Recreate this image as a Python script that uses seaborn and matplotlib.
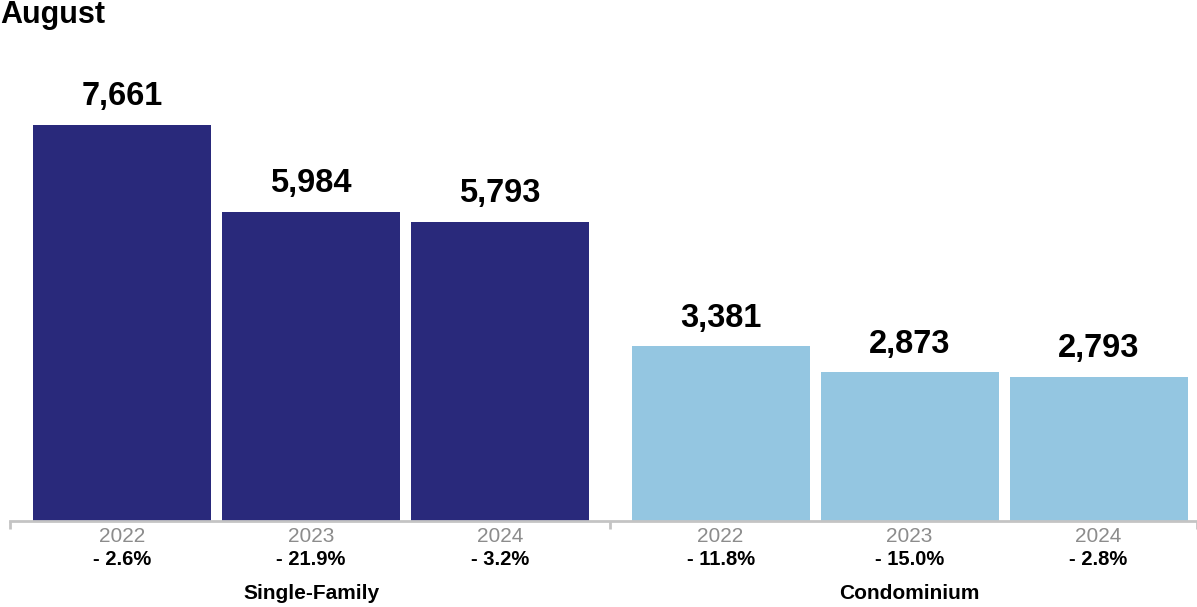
import matplotlib
matplotlib.use("Agg")
import matplotlib.pyplot as plt
import seaborn as sns
import pandas as pd
import numpy as np

# ---- data ----
title = "August"
groups = ["Single-Family", "Condominium"]
years = ["2022", "2023", "2024"]
sf_values = [7661, 5984, 5793]
condo_values = [3381, 2873, 2793]
sf_changes = ["- 2.6%", "- 21.9%", "- 3.2%"]
condo_changes = ["- 11.8%", "- 15.0%", "- 2.8%"]
colors = {"Single-Family": "#29297b", "Condominium": "#94c6e1"}

sns.set_theme(style="white")
plt.rcParams["font.family"] = ["Liberation Sans", "DejaVu Sans"]

group_gap = 1.167
rows = []
for gi, (g, vals, chg) in enumerate(zip(groups, [sf_values, condo_values], [sf_changes, condo_changes])):
    for yi, (yr, v, c) in enumerate(zip(years, vals, chg)):
        rows.append({"group": g, "year": yr, "value": v, "change": c,
                     "pos": gi * (len(years) - 1 + group_gap) + yi})
df = pd.DataFrame(rows)

fig = plt.figure(figsize=(11.97, 6.07), dpi=100)
ax = fig.add_axes([10 / 1197, 86 / 607, 1187 / 1197, 521 / 607])

sns.barplot(data=df, x="pos", y="value", hue="group", palette=colors,
            native_scale=True, dodge=False, width=0.942, legend=False,
            saturation=1, ax=ax, edgecolor="none")

for cont in ax.containers:
    ax.bar_label(cont, labels=[f"{int(v):,}" for v in cont.datavalues],
                 padding=9, fontsize=23.5, fontweight="bold", color="black")

ax.set_xlim(-0.593, 5.688)
ax.set_ylim(0, 10079)
ax.set_yticks([])
ax.set_xlabel("")
ax.set_ylabel("")
for s in ["top", "left", "right"]:
    ax.spines[s].set_visible(False)
ax.spines["bottom"].set_color("#c4c4c4")
ax.spines["bottom"].set_linewidth(2)

ax.set_xticks(df["pos"])
ax.set_xticklabels(df["year"], fontsize=15, color="#8c8c8c")
ax.tick_params(axis="x", which="major", length=0, pad=4.5)
sf_end = df["pos"].iloc[2]
co_start = df["pos"].iloc[3]
ax.set_xticks([-0.593, (sf_end + co_start) / 2, 5.688], minor=True)
ax.tick_params(axis="x", which="minor", bottom=True, length=6, width=2,
               color="#c4c4c4", direction="out")

for _, r in df.iterrows():
    ax.annotate(r["change"], xy=(r["pos"], 0), xytext=(0, -28),
                textcoords="offset points", ha="center", va="center",
                fontsize=14.5, fontweight="bold", color="black")

for g, sub in df.groupby("group", sort=False):
    ax.annotate(g, xy=(sub["pos"].mean(), 0), xytext=(0, -52),
                textcoords="offset points", ha="center", va="center",
                fontsize=15, fontweight="bold", color="black")

fig.text(0.0, 1 - 23 / 607, title, ha="left", va="baseline",
         fontsize=22, fontweight="bold", color="black")

fig.savefig("out.png", dpi=100)
